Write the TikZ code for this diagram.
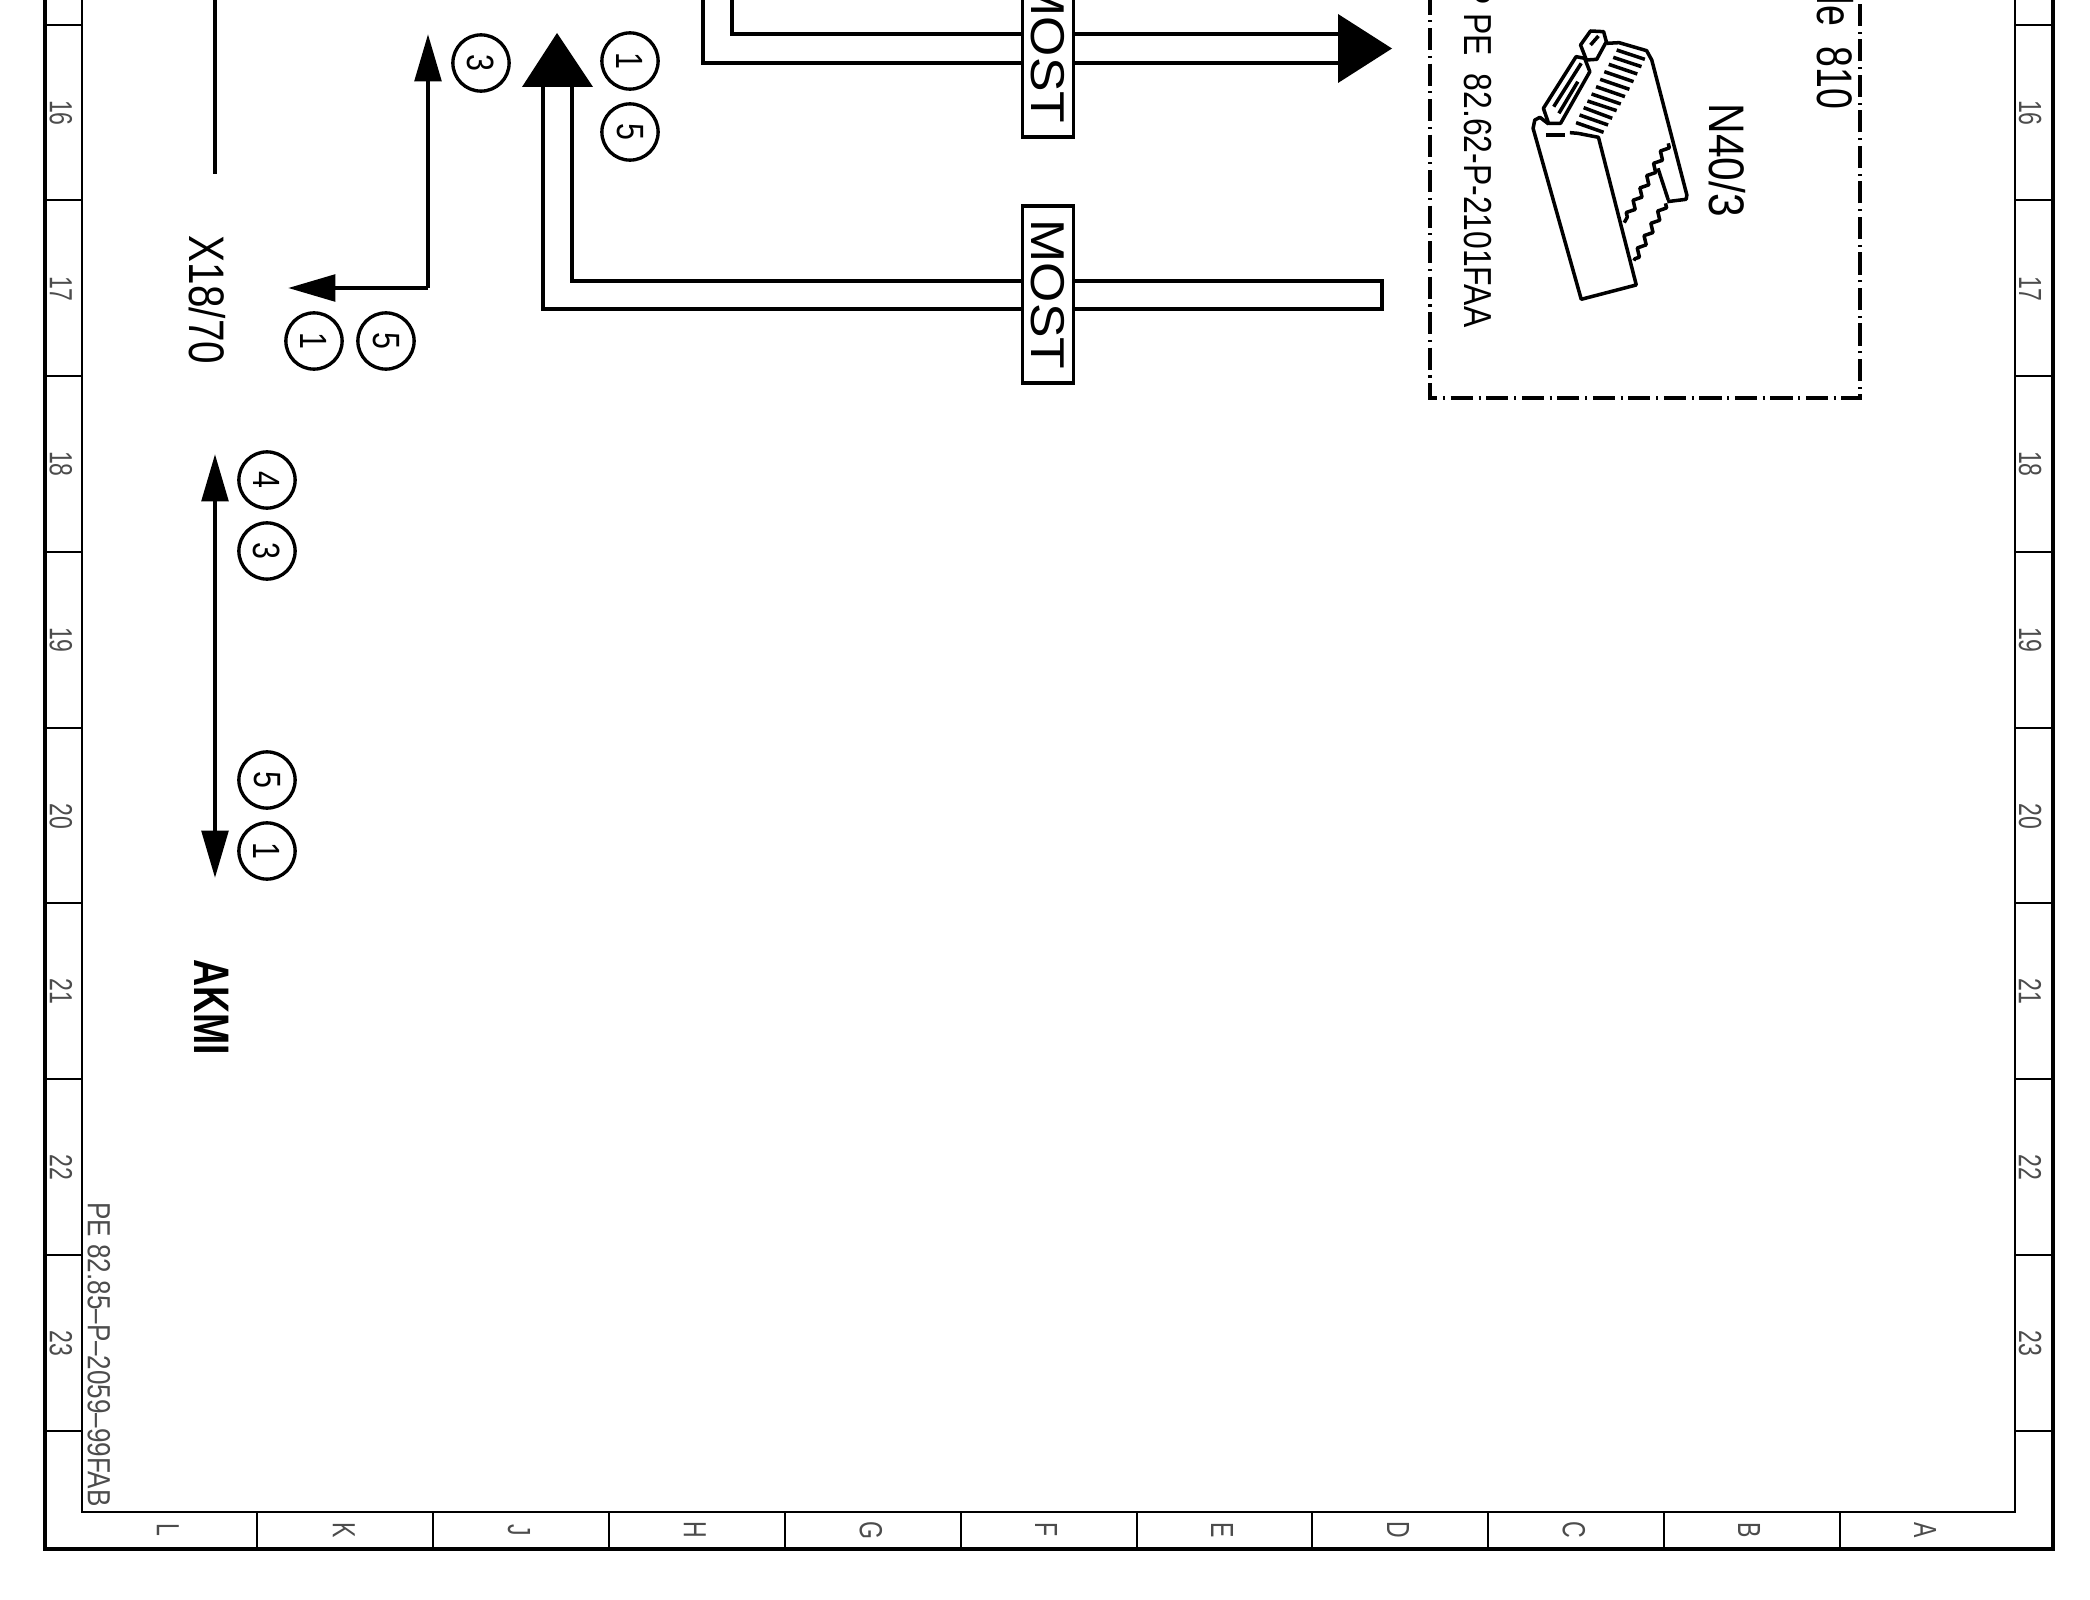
\documentclass[tikz,border=0pt]{standalone}
\usepackage{fontspec}
\usepackage{tikz}
\usetikzlibrary{arrows.meta,decorations.pathmorphing}
\setmainfont{Liberation Sans}
\tikzset{
	rimthick/.style={line width=1.25pt},
	rimthin/.style={line width=0.8pt},
	rimtext/.style={rotate=-90,inner sep=0pt,text=black!70,font=\fontsize{9.1}{10}\selectfont},
	plaintext/.style={rotate=-90,inner sep=0pt,font=\fontsize{14.2}{16}\selectfont},
	buswire/.style={line width=1.35pt},
	sigwire/.style={line width=1.35pt},
	sigtip/.style={-{Triangle[length=13.5pt,width=7.5pt]}},
	callout/.style={circle,draw,line width=0.95pt,minimum size=16pt,inner sep=0pt,rotate=-90,font=\fontsize{10.8}{12}\selectfont},
	mostbox/.style={draw,fill=white,line width=0.95pt,rotate=-90,inner sep=0pt,minimum width=50.4pt,minimum height=14.5pt,font=\fontsize{13.5}{15}\selectfont},
	unitbox/.style={line width=1.2pt,dash pattern=on 6.3pt off 1.6pt on 0.6pt off 1.6pt},
	iconline/.style={line width=1pt,line join=round}
}
\begin{document}
\begin{tikzpicture}[x=0.01cm,y=-0.01cm]
	\useasboundingbox (0,0) rectangle (2090,1600);
	\clip (0,0) rectangle (2090,1600);

	\draw[rimthick] (45,-10) -- (45,1549) -- (2053,1549) -- (2053,-10);
	\draw[rimthin] (82,-10) -- (82,1512) -- (2015,1512) -- (2015,-10);

	\draw[rimthin] (45,25) -- (82,25);
	\draw[rimthin] (45,200) -- (82,200);
	\draw[rimthin] (45,376) -- (82,376);
	\draw[rimthin] (45,552) -- (82,552);
	\draw[rimthin] (45,728) -- (82,728);
	\draw[rimthin] (45,903) -- (82,903);
	\draw[rimthin] (45,1079) -- (82,1079);
	\draw[rimthin] (45,1255) -- (82,1255);
	\draw[rimthin] (45,1431) -- (82,1431);

	\draw[rimthin] (2015,25) -- (2053,25);
	\draw[rimthin] (2015,200) -- (2053,200);
	\draw[rimthin] (2015,376) -- (2053,376);
	\draw[rimthin] (2015,552) -- (2053,552);
	\draw[rimthin] (2015,728) -- (2053,728);
	\draw[rimthin] (2015,903) -- (2053,903);
	\draw[rimthin] (2015,1079) -- (2053,1079);
	\draw[rimthin] (2015,1255) -- (2053,1255);
	\draw[rimthin] (2015,1431) -- (2053,1431);

	\draw[rimthin] (257,1512) -- (257,1549);
	\draw[rimthin] (433,1512) -- (433,1549);
	\draw[rimthin] (609,1512) -- (609,1549);
	\draw[rimthin] (785,1512) -- (785,1549);
	\draw[rimthin] (961,1512) -- (961,1549);
	\draw[rimthin] (1137,1512) -- (1137,1549);
	\draw[rimthin] (1312,1512) -- (1312,1549);
	\draw[rimthin] (1488,1512) -- (1488,1549);
	\draw[rimthin] (1664,1512) -- (1664,1549);
	\draw[rimthin] (1840,1512) -- (1840,1549);

	\node[rimtext] (leftS) at (61,113) {\scalebox{.72}[1]{16}};
	\node[rimtext] (leftT) at (61,289) {\scalebox{.72}[1]{17}};
	\node[rimtext] (leftU) at (61,464) {\scalebox{.72}[1]{18}};
	\node[rimtext] (leftV) at (61,640) {\scalebox{.72}[1]{19}};
	\node[rimtext] (leftW) at (61,816) {\scalebox{.72}[1]{20}};
	\node[rimtext] (leftX) at (61,991) {\scalebox{.72}[1]{21}};
	\node[rimtext] (leftY) at (61,1167) {\scalebox{.72}[1]{22}};
	\node[rimtext] (leftZ) at (61,1343) {\scalebox{.72}[1]{23}};

	\node[rimtext] (rightS) at (2030,113) {\scalebox{.72}[1]{16}};
	\node[rimtext] (rightT) at (2030,289) {\scalebox{.72}[1]{17}};
	\node[rimtext] (rightU) at (2030,464) {\scalebox{.72}[1]{18}};
	\node[rimtext] (rightV) at (2030,640) {\scalebox{.72}[1]{19}};
	\node[rimtext] (rightW) at (2030,816) {\scalebox{.72}[1]{20}};
	\node[rimtext] (rightX) at (2030,991) {\scalebox{.72}[1]{21}};
	\node[rimtext] (rightY) at (2030,1167) {\scalebox{.72}[1]{22}};
	\node[rimtext] (rightZ) at (2030,1343) {\scalebox{.72}[1]{23}};

	\node[rimtext] (colL) at (168,1530) {\scalebox{.72}[1]{L}};
	\node[rimtext] (colK) at (344,1530) {\scalebox{.72}[1]{K}};
	\node[rimtext] (colJ) at (519,1530) {\scalebox{.72}[1]{J}};
	\node[rimtext] (colH) at (695,1530) {\scalebox{.72}[1]{H}};
	\node[rimtext] (colG) at (871,1530) {\scalebox{.72}[1]{G}};
	\node[rimtext] (colF) at (1046,1530) {\scalebox{.72}[1]{F}};
	\node[rimtext] (colE) at (1222,1530) {\scalebox{.72}[1]{E}};
	\node[rimtext] (colD) at (1398,1530) {\scalebox{.72}[1]{D}};
	\node[rimtext] (colC) at (1574,1530) {\scalebox{.72}[1]{C}};
	\node[rimtext] (colB) at (1749,1530) {\scalebox{.72}[1]{B}};
	\node[rimtext] (colA) at (1925,1530) {\scalebox{.72}[1]{A}};

	\node[rimtext] (sheetno) at (99,1354.5) {\scalebox{.815}[1]{PE\ 82.85–P–2059–99FAB}};

	\coordinate (wireTop) at (215,-10);
	\coordinate (wireEnd) at (215,174);
	\draw[sigwire] (wireTop) -- (wireEnd);
	\node[plaintext] (xeighteen) at (207,300) {\scalebox{.81}[1]{X18/70}};

	\coordinate (lTipUp) at (428,34);
	\coordinate (lCorner) at (428,288);
	\coordinate (lTipLeft) at (288,288);
	\draw[sigwire,sigtip] (lCorner) -- (lTipUp);
	\draw[sigwire,sigtip] (lCorner) -- (lTipLeft);
	\node[callout] (cThreeA) at (481,63) {\scalebox{.8}[1]{3}};
	\node[callout] (cOneB) at (314,341) {\scalebox{.8}[1]{1}};
	\node[callout] (cFiveB) at (386,341) {\scalebox{.8}[1]{5}};

	\coordinate (vMid) at (215,660);
	\coordinate (vTipUp) at (215,454);
	\coordinate (vTipDown) at (215,878);
	\draw[sigwire,sigtip] (vMid) -- (vTipUp);
	\draw[sigwire,sigtip] (vMid) -- (vTipDown);
	\node[callout] (cFourC) at (267,480) {\scalebox{.8}[1]{4}};
	\node[callout] (cThreeC) at (267,551) {\scalebox{.8}[1]{3}};
	\node[callout] (cFiveC) at (267,780) {\scalebox{.8}[1]{5}};
	\node[callout] (cOneC) at (267,851) {\scalebox{.8}[1]{1}};
	\node[plaintext] (akmi) at (212,1007) {\scalebox{.75}[1]{\textbf{AKMI}}};

	\coordinate (upInnerTop) at (732,-10);
	\coordinate (upInnerBend) at (732,34);
	\coordinate (upInnerEnd) at (1340,34);
	\coordinate (upOuterTop) at (703,-10);
	\coordinate (upOuterBend) at (703,63);
	\coordinate (upOuterEnd) at (1340,63);
	\coordinate (upHeadA) at (1338,14);
	\coordinate (upHeadB) at (1392,48.5);
	\coordinate (upHeadC) at (1338,83);
	\draw[buswire] (upInnerTop) -- (upInnerBend) -- (upInnerEnd);
	\draw[buswire] (upOuterTop) -- (upOuterBend) -- (upOuterEnd);
	\fill (upHeadA) -- (upHeadB) -- (upHeadC) -- cycle;
	\node[mostbox] (mostUp) at (1048,48.5) {\scalebox{1.09}[1]{MOST}};

	\coordinate (lowInnerEnd) at (572,87);
	\coordinate (lowInnerBend) at (572,281);
	\coordinate (lowCapA) at (1382,281);
	\coordinate (lowCapB) at (1382,309);
	\coordinate (lowOuterBend) at (543,309);
	\coordinate (lowOuterEnd) at (543,87);
	\coordinate (lowHeadA) at (522,87);
	\coordinate (lowHeadB) at (557,33);
	\coordinate (lowHeadC) at (593,87);
	\draw[buswire] (lowInnerEnd) -- (lowInnerBend) -- (lowCapA) -- (lowCapB) -- (lowOuterBend) -- (lowOuterEnd);
	\fill (lowHeadA) -- (lowHeadB) -- (lowHeadC) -- cycle;
	\node[mostbox] (mostLow) at (1048,294.5) {\scalebox{1.09}[1]{MOST}};
	\node[callout] (cOneD) at (630,61) {\scalebox{.8}[1]{1}};
	\node[callout] (cFiveD) at (630,132) {\scalebox{.8}[1]{5}};

	\draw[unitbox,dash phase=0pt] (1430,-7.5) -- (1430,398) -- (1860,398) -- (1860,-10);
	\node[plaintext,anchor=east,font=\fontsize{11.1}{13}\selectfont] (partno) at (1478,328) {\scalebox{.817}[1]{P\ PE\ \ 82.62-P-2101FAA}};
	\node[plaintext,anchor=east] (unitname) at (1835,110) {\scalebox{.75}[1]{Module\ \ 810}};
	\node[plaintext] (unitref) at (1727,160) {\scalebox{.85}[1]{N40/3}};

	\begin{scope}[shift={(1380,0)},xscale=.344,yscale=.3333]
		\draw[iconline] (552,398) -- (575,400) -- (635,412) -- (745,855) -- (585,898) -- (445,385) -- (450,360) -- (465,352) -- (490,372);
		\draw[iconline] (482,405) -- (538,405);
		\draw[iconline] (583,135) -- (612,93) -- (650,95) -- (658,125) -- (630,178) -- (600,180) -- cycle;
		\draw[iconline] (612,135) -- (635,108);
		\draw[iconline] (475,325) -- (570,170) -- (595,175) -- (610,215) -- (525,370) -- (490,370) -- cycle;
		\draw[iconline] (505,320) -- (585,190);
		\draw[iconline] (520,340) -- (575,245);
		\draw[iconline] (660,130) -- (695,128) -- (775,152) -- (790,180) -- (892,585) -- (890,598) -- (835,605);
		\draw[iconline] (808,505) -- (838,600);
		\draw[iconline,decorate,decoration={zigzag,amplitude=0.9pt,segment length=4pt}] (838,430) -- (710,668);
		\draw[iconline,decorate,decoration={zigzag,amplitude=0.9pt,segment length=4pt}] (830,610) -- (738,782);
		\draw[iconline] (688,150) -- (770,178);
		\draw[iconline] (678,172) -- (760,200);
		\draw[iconline] (665,193) -- (748,222);
		\draw[iconline] (652,215) -- (737,245);
		\draw[iconline] (640,238) -- (725,268);
		\draw[iconline] (628,260) -- (712,290);
		\draw[iconline] (615,282) -- (700,312);
		\draw[iconline] (603,303) -- (688,332);
		\draw[iconline] (592,323) -- (675,355);
		\draw[iconline] (580,345) -- (663,375);
		\draw[iconline] (570,368) -- (650,397);
	\end{scope}
\end{tikzpicture}
\end{document}
